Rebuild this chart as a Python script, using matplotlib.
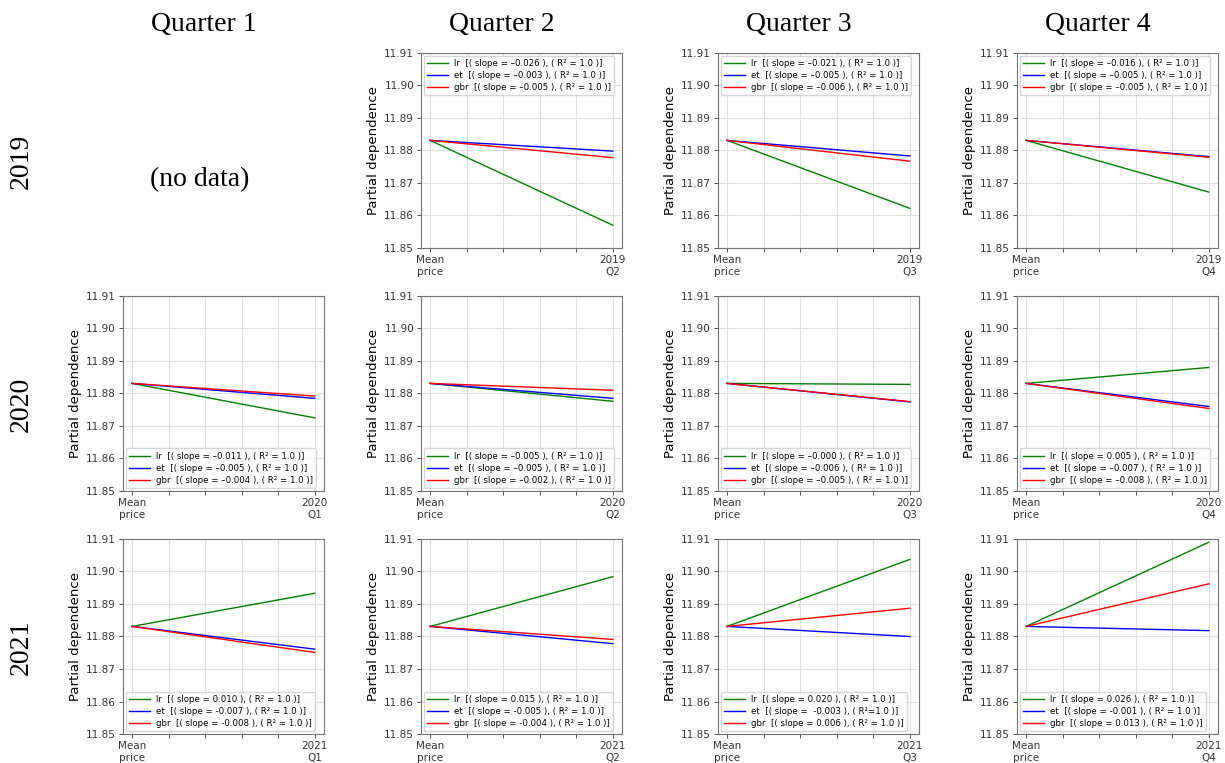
import matplotlib
matplotlib.use("Agg")
import matplotlib.pyplot as plt

# partial dependence at "Mean price" (x=0) and at the quarter value (x=1)
start_value = 11.8831
years = ["2019", "2020", "2021"]
quarters = ["Quarter 1", "Quarter 2", "Quarter 3", "Quarter 4"]
models = ["lr", "et", "gbr"]
model_colors = ["green", "blue", "red"]

# end values per year, per quarter: [lr, et, gbr]; None = no data
end_2019 = [None, [11.8570, 11.8798, 11.8778], [11.8622, 11.8783, 11.8767], [11.8672, 11.8781, 11.8779]]
end_2020 = [[11.8725, 11.8785, 11.8792], [11.8776, 11.8785, 11.8810], [11.8828, 11.8774, 11.8775], [11.8880, 11.8760, 11.8754]]
end_2021 = [[11.8933, 11.8761, 11.8751], [11.8984, 11.8778, 11.8791], [11.9037, 11.8800, 11.8887], [11.9090, 11.8818, 11.8962]]

# legend slope texts
slopes_2019 = [None, ["\u20130.026", "\u20130.003", "\u20130.005"], ["\u20130.021", "\u20130.005", "\u20130.006"], ["\u20130.016", "\u20130.005", "\u20130.005"]]
slopes_2020 = [["\u20130.011", "\u20130.005", "\u20130.004"], ["\u20130.005", "\u20130.005", "\u20130.002"], ["\u20130.000", "\u20130.006", "\u20130.005"], ["0.005", "\u20130.007", "\u20130.008"]]
slopes_2021 = [["0.010", "-0.007", "-0.008"], ["0.015", "-0.005", "-0.004"], ["0.020", " -0.003", "0.006"], ["0.026", "-0.001", "0.013"]]

end_values = [end_2019, end_2020, end_2021]
slope_texts = [slopes_2019, slopes_2020, slopes_2021]
quarter_short = ["Q1", "Q2", "Q3", "Q4"]

fig = plt.figure(figsize=(12.25, 7.63), dpi=100)
serif = "Liberation Serif"

col_left = [0.1004, 0.3437, 0.5861, 0.8302]
row_bottom = [0.675, 0.3565, 0.038]
ax_w, ax_h = 0.164, 0.2556

for c, q in enumerate(quarters):
    fig.text(col_left[c] + ax_w / 2 - 0.016, 0.968, q, ha="center", va="center",
             fontsize=20, family=serif)
for r, y in enumerate(years):
    fig.text(0.017, row_bottom[r] + ax_h / 2 - 0.014, y, ha="center", va="center",
             rotation=90, fontsize=20, family=serif)

for r in range(3):
    for c in range(4):
        ends = end_values[r][c]
        if ends is None:
            fig.text(0.163, 0.764, "(no data)", ha="center", va="center",
                     fontsize=20, family=serif)
            continue
        ax = fig.add_axes([col_left[c], row_bottom[r], ax_w, ax_h])
        for m in range(3):
            s = slope_texts[r][c][m]
            if r == 2 and c == 2 and m == 1:
                lab = "%s  [( slope = %s ), ( R\u00b2=1.0 )]" % (models[m], s)
            else:
                lab = "%s  [( slope = %s ), ( R\u00b2 = 1.0 )]" % (models[m], s)
            ax.plot([0, 1], [start_value, ends[m]], color=model_colors[m], lw=1.0, label=lab)
        ax.set_ylim(11.85, 11.91)
        ax.set_yticks([11.85, 11.86, 11.87, 11.88, 11.89, 11.90, 11.91])
        ax.set_yticklabels(["%.2f" % v for v in [11.85, 11.86, 11.87, 11.88, 11.89, 11.90, 11.91]])
        ax.set_xticks([0, 0.2, 0.4, 0.6, 0.8, 1.0])
        ax.set_xticklabels(["Mean\nprice", "", "", "", "", "%s\n%s" % (years[r], quarter_short[c])])
        ax.tick_params(labelsize=7.5, length=3, width=0.6, colors="0.2", pad=2)
        for lab in ax.get_xticklabels():
            lab.set_linespacing(1.25)
        ax.grid(True, color="0.88", lw=0.8)
        for sp in ax.spines.values():
            sp.set_color("0.45")
            sp.set_linewidth(0.8)
        ax.set_ylabel("Partial dependence", fontsize=9.5, labelpad=3)
        loc = "upper left" if r == 0 else "lower left"
        ax.legend(loc=loc, fontsize=6.2, handlelength=2.4, borderaxespad=0.3,
                  labelspacing=0.35, handletextpad=0.7, framealpha=0.8)

fig.savefig("out.png", dpi=100)
